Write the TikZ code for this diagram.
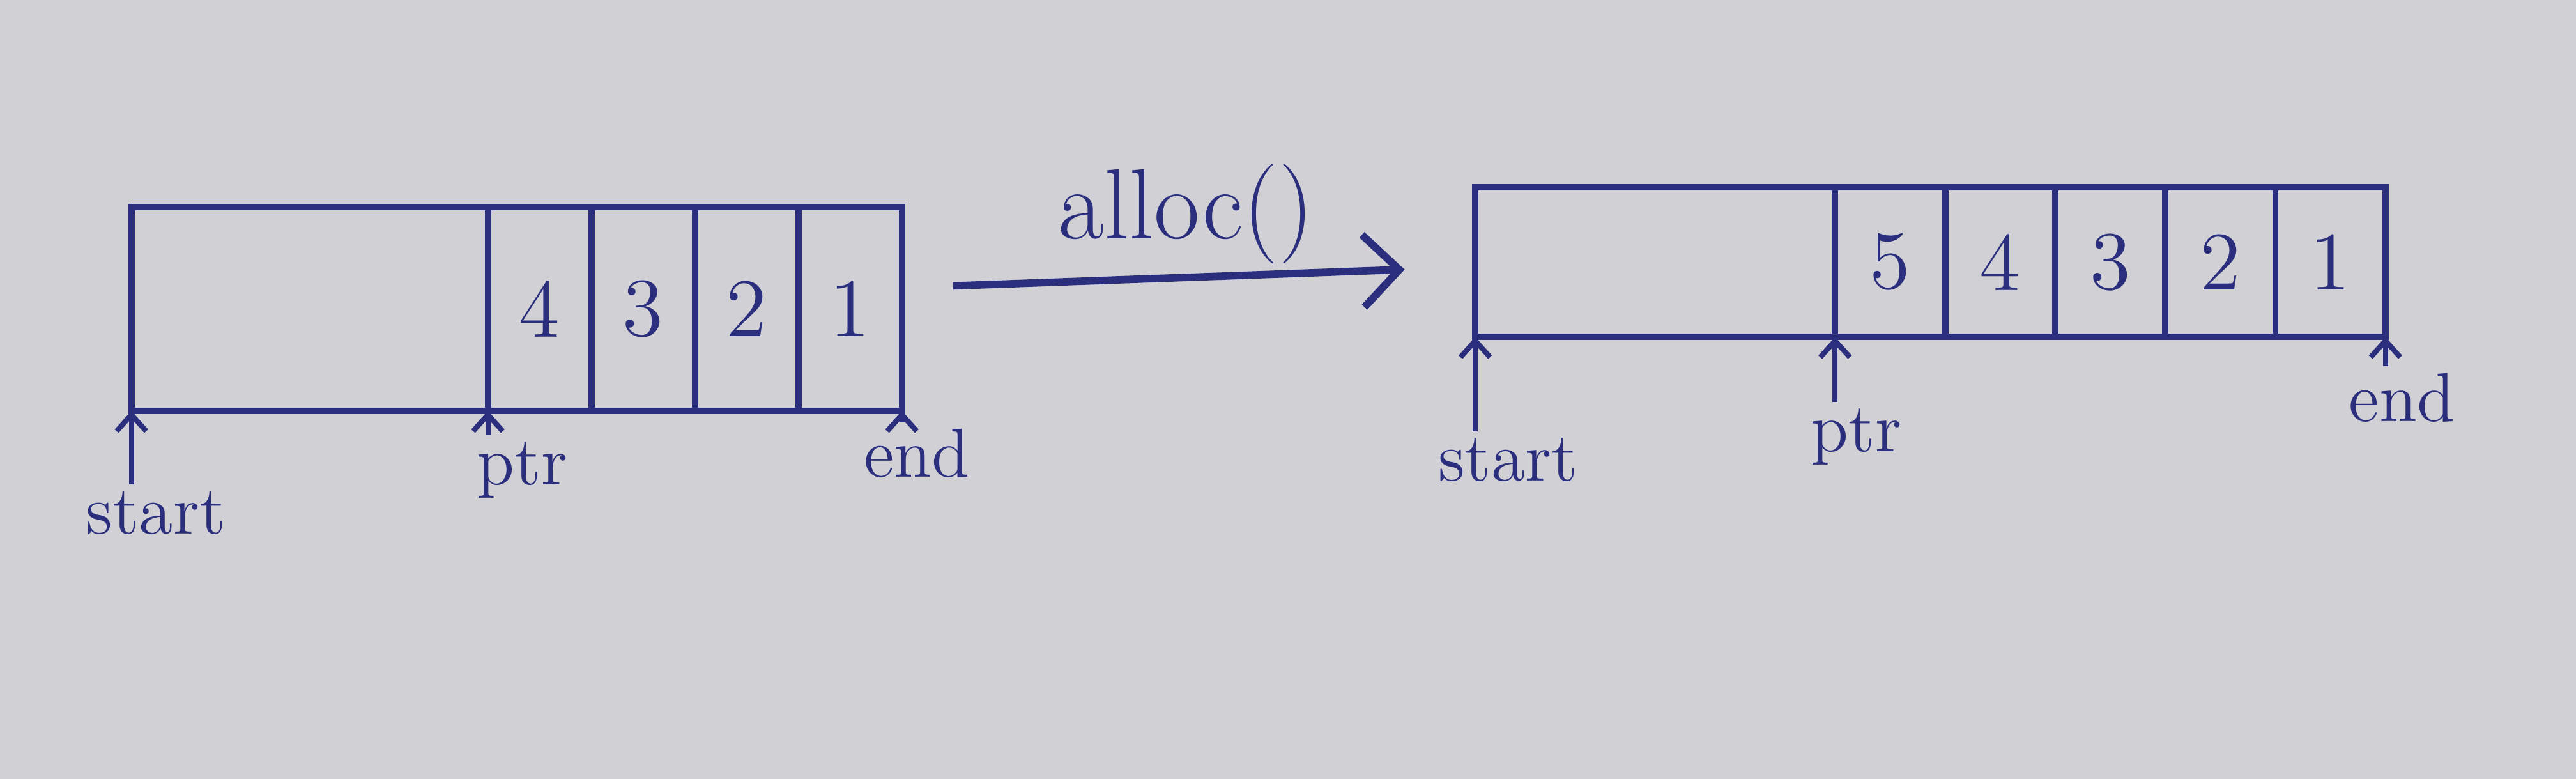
\documentclass[tikz,border=0pt]{standalone}
\usetikzlibrary{arrows.meta}
\definecolor{ink}{RGB}{42,46,125}
\definecolor{paper}{RGB}{208,208,213}
\begin{document}
\begin{tikzpicture}[
 cell/.style={draw=ink,line width=1.1pt,inner sep=0pt,outer sep=0pt,anchor=south west,text=ink,font=\Large},
 lcell/.style={cell,minimum height=1.24cm},
 rcell/.style={cell,minimum height=0.91cm},
 lbl/.style={text=ink,font=\large,inner sep=1pt},
 ptrarrow/.style={draw=ink,line width=0.9pt,-{Straight Barb[length=1mm,width=1.8mm]}},
 flow/.style={draw=ink,line width=1.3pt,-{Straight Barb[length=2.2mm,width=4.4mm]}}]
 \fill[paper] (0,0) rectangle (15.68,-4.74);
 \useasboundingbox (0,0) rectangle (15.68,-4.74);
 \node[lcell,minimum width=2.17cm] (lfree) at (0.80,-2.50) {};
 \node[lcell,minimum width=0.63cm] (l4) at (2.97,-2.50) {4};
 \node[lcell,minimum width=0.63cm] (l3) at (3.60,-2.50) {3};
 \node[lcell,minimum width=0.63cm] (l2) at (4.23,-2.50) {2};
 \node[lcell,minimum width=0.63cm] (l1) at (4.86,-2.50) {1};
 \node[rcell,minimum width=2.19cm] (rfree) at (8.98,-2.05) {};
 \node[rcell,minimum width=0.67cm] (r5) at (11.17,-2.05) {5};
 \node[rcell,minimum width=0.67cm] (r4) at (11.84,-2.05) {4};
 \node[rcell,minimum width=0.67cm] (r3) at (12.51,-2.05) {3};
 \node[rcell,minimum width=0.67cm] (r2) at (13.18,-2.05) {2};
 \node[rcell,minimum width=0.67cm] (r1) at (13.85,-2.05) {1};
 \node[lbl] (lstart) at (0.95,-3.12) {start};
 \node[lbl] (lptr) at (3.18,-2.86) {ptr};
 \node[lbl] (lend) at (5.58,-2.76) {end};
 \node[lbl] (rstart) at (9.18,-2.80) {start};
 \node[lbl] (rptr) at (11.30,-2.66) {ptr};
 \node[lbl] (rend) at (14.62,-2.42) {end};
 \draw[ptrarrow] (lstart.north -| lfree.south west) -- (lfree.south west);
 \draw[ptrarrow] (lptr.north -| l4.south west) -- (l4.south west);
 \draw[ptrarrow] (lend.north -| l1.south east) -- (l1.south east);
 \draw[ptrarrow] (rstart.north -| rfree.south west) -- (rfree.south west);
 \draw[ptrarrow] (rptr.north -| r5.south west) -- (r5.south west);
 \draw[ptrarrow] (rend.north -| r1.south east) -- (r1.south east);
 \coordinate (from) at (5.80,-1.74);
 \coordinate (to) at (8.55,-1.64);
 \draw[flow] (from) -- (to);
 \node[text=ink,font=\LARGE] (call) at (7.22,-1.30) {alloc()};
\end{tikzpicture}
\end{document}
